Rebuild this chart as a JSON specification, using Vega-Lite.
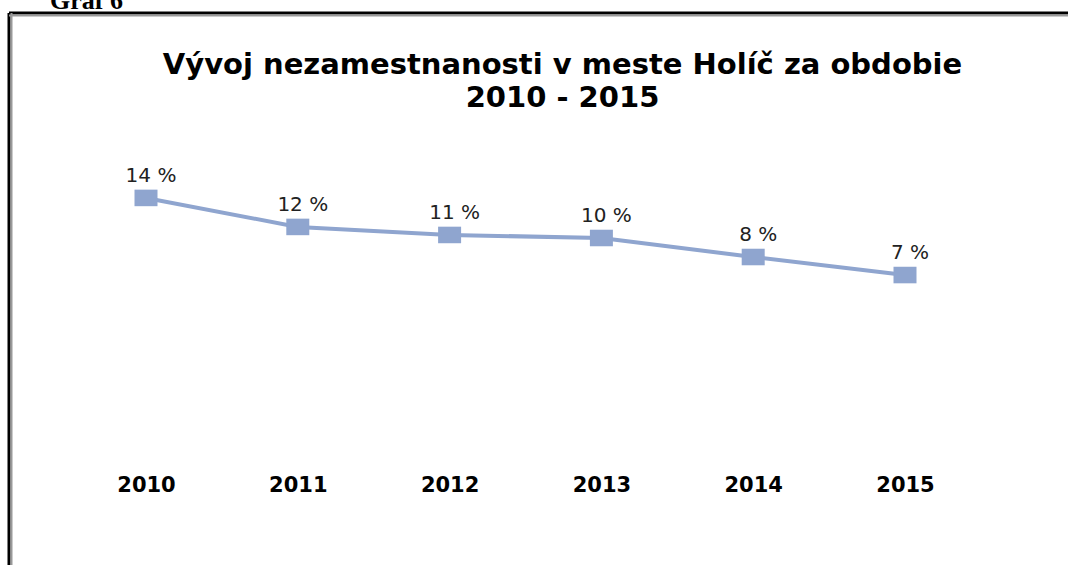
{
  "$schema": "https://vega.github.io/schema/vega-lite/v6.json",
  "width": 1059,
  "height": 552,
  "autosize": "none",
  "padding": {"left": 9, "top": 13, "right": 0, "bottom": 0},
  "background": "white",
  "config": {"view": {"stroke": null}},
  "title": {
    "text": ["Vývoj nezamestnanosti v meste Holíč za obdobie", "2010 - 2015"],
    "font": "DejaVu Sans",
    "fontSize": 29,
    "fontWeight": "bold",
    "color": "#000000",
    "anchor": "middle",
    "baseline": "top",
    "offset": 0,
    "lineHeight": 33,
    "dx": 24,
    "dy": 125
  },
  "data": {
    "values": [
      {"year": 2010, "rate": 14.48, "label": "14 %"},
      {"year": 2011, "rate": 11.52, "label": "12 %"},
      {"year": 2012, "rate": 10.70, "label": "11 %"},
      {"year": 2013, "rate": 10.39, "label": "10 %"},
      {"year": 2014, "rate": 8.45, "label": "8 %"},
      {"year": 2015, "rate": 6.61, "label": "7 %"}
    ]
  },
  "layer": [
    {
      "mark": {"type": "line", "color": "#8FA5CF", "strokeWidth": 4},
      "encoding": {
        "x": {
          "field": "year",
          "type": "quantitative",
          "scale": {"domain": [2009.0975, 2016.0738], "nice": false, "zero": false},
          "axis": {
            "values": [2010, 2011, 2012, 2013, 2014, 2015],
            "format": "d",
            "orient": "bottom",
            "offset": -91,
            "labelPadding": 0,
            "ticks": false,
            "tickSize": 0,
            "domain": false,
            "grid": false,
            "title": null,
            "labelFont": "DejaVu Sans",
            "labelFontSize": 21,
            "labelFontWeight": "bold",
            "labelColor": "#000000",
            "labelFlush": false,
            "labelOverlap": false
          }
        },
        "y": {
          "field": "rate",
          "type": "quantitative",
          "scale": {"domain": [-22.98, 33.35], "nice": false, "zero": false},
          "axis": null
        }
      }
    },
    {
      "mark": {"type": "point", "shape": "M-1,-0.72H1V0.72H-1Z", "filled": true, "size": 529, "color": "#8FA5CF", "opacity": 1},
      "encoding": {
        "x": {"field": "year", "type": "quantitative"},
        "y": {"field": "rate", "type": "quantitative"}
      }
    },
    {
      "mark": {"type": "text", "font": "DejaVu Sans", "fontSize": 20, "color": "#222222", "baseline": "alphabetic", "align": "center", "dy": -16, "dx": 5},
      "encoding": {
        "x": {"field": "year", "type": "quantitative"},
        "y": {"field": "rate", "type": "quantitative"},
        "text": {"field": "label"}
      }
    },
    {
      "data": {"values": [{"edge": "left"}]},
      "mark": {"type": "rule", "color": "#000000", "strokeWidth": 3},
      "encoding": {"x": {"datum": 2009.0975}}
    },
    {
      "data": {"values": [{"edge": "top"}]},
      "mark": {"type": "rule", "color": "#000000", "strokeWidth": 3},
      "encoding": {"y": {"datum": 33.35}}
    },
    {
      "data": {"values": [{"edge": "left inner"}]},
      "mark": {"type": "rule", "color": "#999999", "strokeWidth": 2},
      "encoding": {"x": {"datum": 2009.114}}
    },
    {
      "data": {"values": [{"edge": "top inner"}]},
      "mark": {"type": "rule", "color": "#999999", "strokeWidth": 2},
      "encoding": {"y": {"datum": 33.095}}
    },
    {
      "data": {"values": [{"caption": "Graf 6"}]},
      "mark": {"type": "text", "font": "Liberation Serif", "fontSize": 26, "fontWeight": "bold", "color": "#000000", "align": "left", "baseline": "alphabetic"},
      "encoding": {
        "x": {"datum": 2009.368},
        "y": {"datum": 33.76},
        "text": {"field": "caption"}
      }
    }
  ]
}
